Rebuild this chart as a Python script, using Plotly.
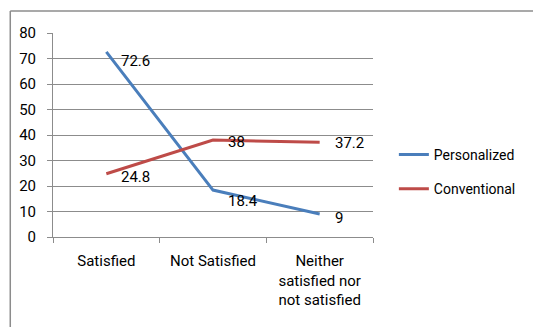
import plotly.graph_objects as go

categories = ["Satisfied", "Not Satisfied", "Neither<br>satisfied nor<br>not satisfied"]
personalized = [72.6, 18.4, 9]
conventional = [24.8, 38, 37.2]
y_ticks = [0, 10, 20, 30, 40, 50, 60, 70, 80]

FONT = "Roboto, sans-serif"
BLUE = "#4A7EBB"
RED = "#BE4B48"
GREY = "#8c8c8c"

fig = go.Figure()
fig.add_trace(go.Scatter(
    x=categories, y=personalized, name="Personalized", mode="lines",
    line=dict(color=BLUE, width=3), legendgroup="a",
))
fig.add_trace(go.Scatter(
    x=categories, y=conventional, name="Conventional", mode="lines",
    line=dict(color=RED, width=3), legendgroup="b",
))

# value labels sit to the right of each point, nudged down a little
label_dy = {"Personalized": [-9, -11, -4], "Conventional": [-3, -2, -1]}
for name, vals in (("Personalized", personalized), ("Conventional", conventional)):
    for cat, v, dy in zip(categories, vals, label_dy[name]):
        fig.add_annotation(x=cat, y=v, text=f"{v:g}", showarrow=False,
                           xanchor="left", xshift=13, yshift=dy,
                           font=dict(size=15, color="#000"))

L, R, T, B = 53, 158, 33, 90
W, H = 533, 327
pw, ph = W - L - R, H - T - B

def px_x(p):
    return (p - L) / pw

def px_y(p):
    return (H - B - p) / ph

frame = dict(color=GREY, width=1.5)
fig.add_shape(type="line", xref="paper", yref="paper",
              x0=px_x(10), x1=px_x(540), y0=px_y(11), y1=px_y(11), line=frame)
fig.add_shape(type="line", xref="paper", yref="paper",
              x0=px_x(10), x1=px_x(10), y0=px_y(11), y1=px_y(340), line=frame)

fig.update_layout(
    width=W, height=H,
    margin=dict(l=L, r=R, t=T, b=B),
    paper_bgcolor="white", plot_bgcolor="white",
    font=dict(family=FONT, size=15, color="#000"),
    showlegend=True,
    legend=dict(x=px_x(396), y=px_y(139), xanchor="left", yanchor="top",
                traceorder="grouped", tracegroupgap=13, itemwidth=30,
                font=dict(size=14), bgcolor="rgba(0,0,0,0)",
                borderwidth=0),
    xaxis=dict(
        type="category", range=[-0.5, 2.5],
        tickson="boundaries", ticks="outside", ticklen=5, tickcolor=GREY,
        showgrid=False, showline=True, linecolor=GREY, linewidth=1,
        ticklabelstandoff=10,
    ),
    yaxis=dict(
        range=[0, 80], tickvals=y_ticks, ticks="outside", ticklen=5,
        tickcolor=GREY, showgrid=True, gridcolor=GREY, gridwidth=1,
        showline=True, linecolor=GREY, linewidth=1, zeroline=False,
        ticklabelstandoff=8,
    ),
)

fig.write_html("out.html")
